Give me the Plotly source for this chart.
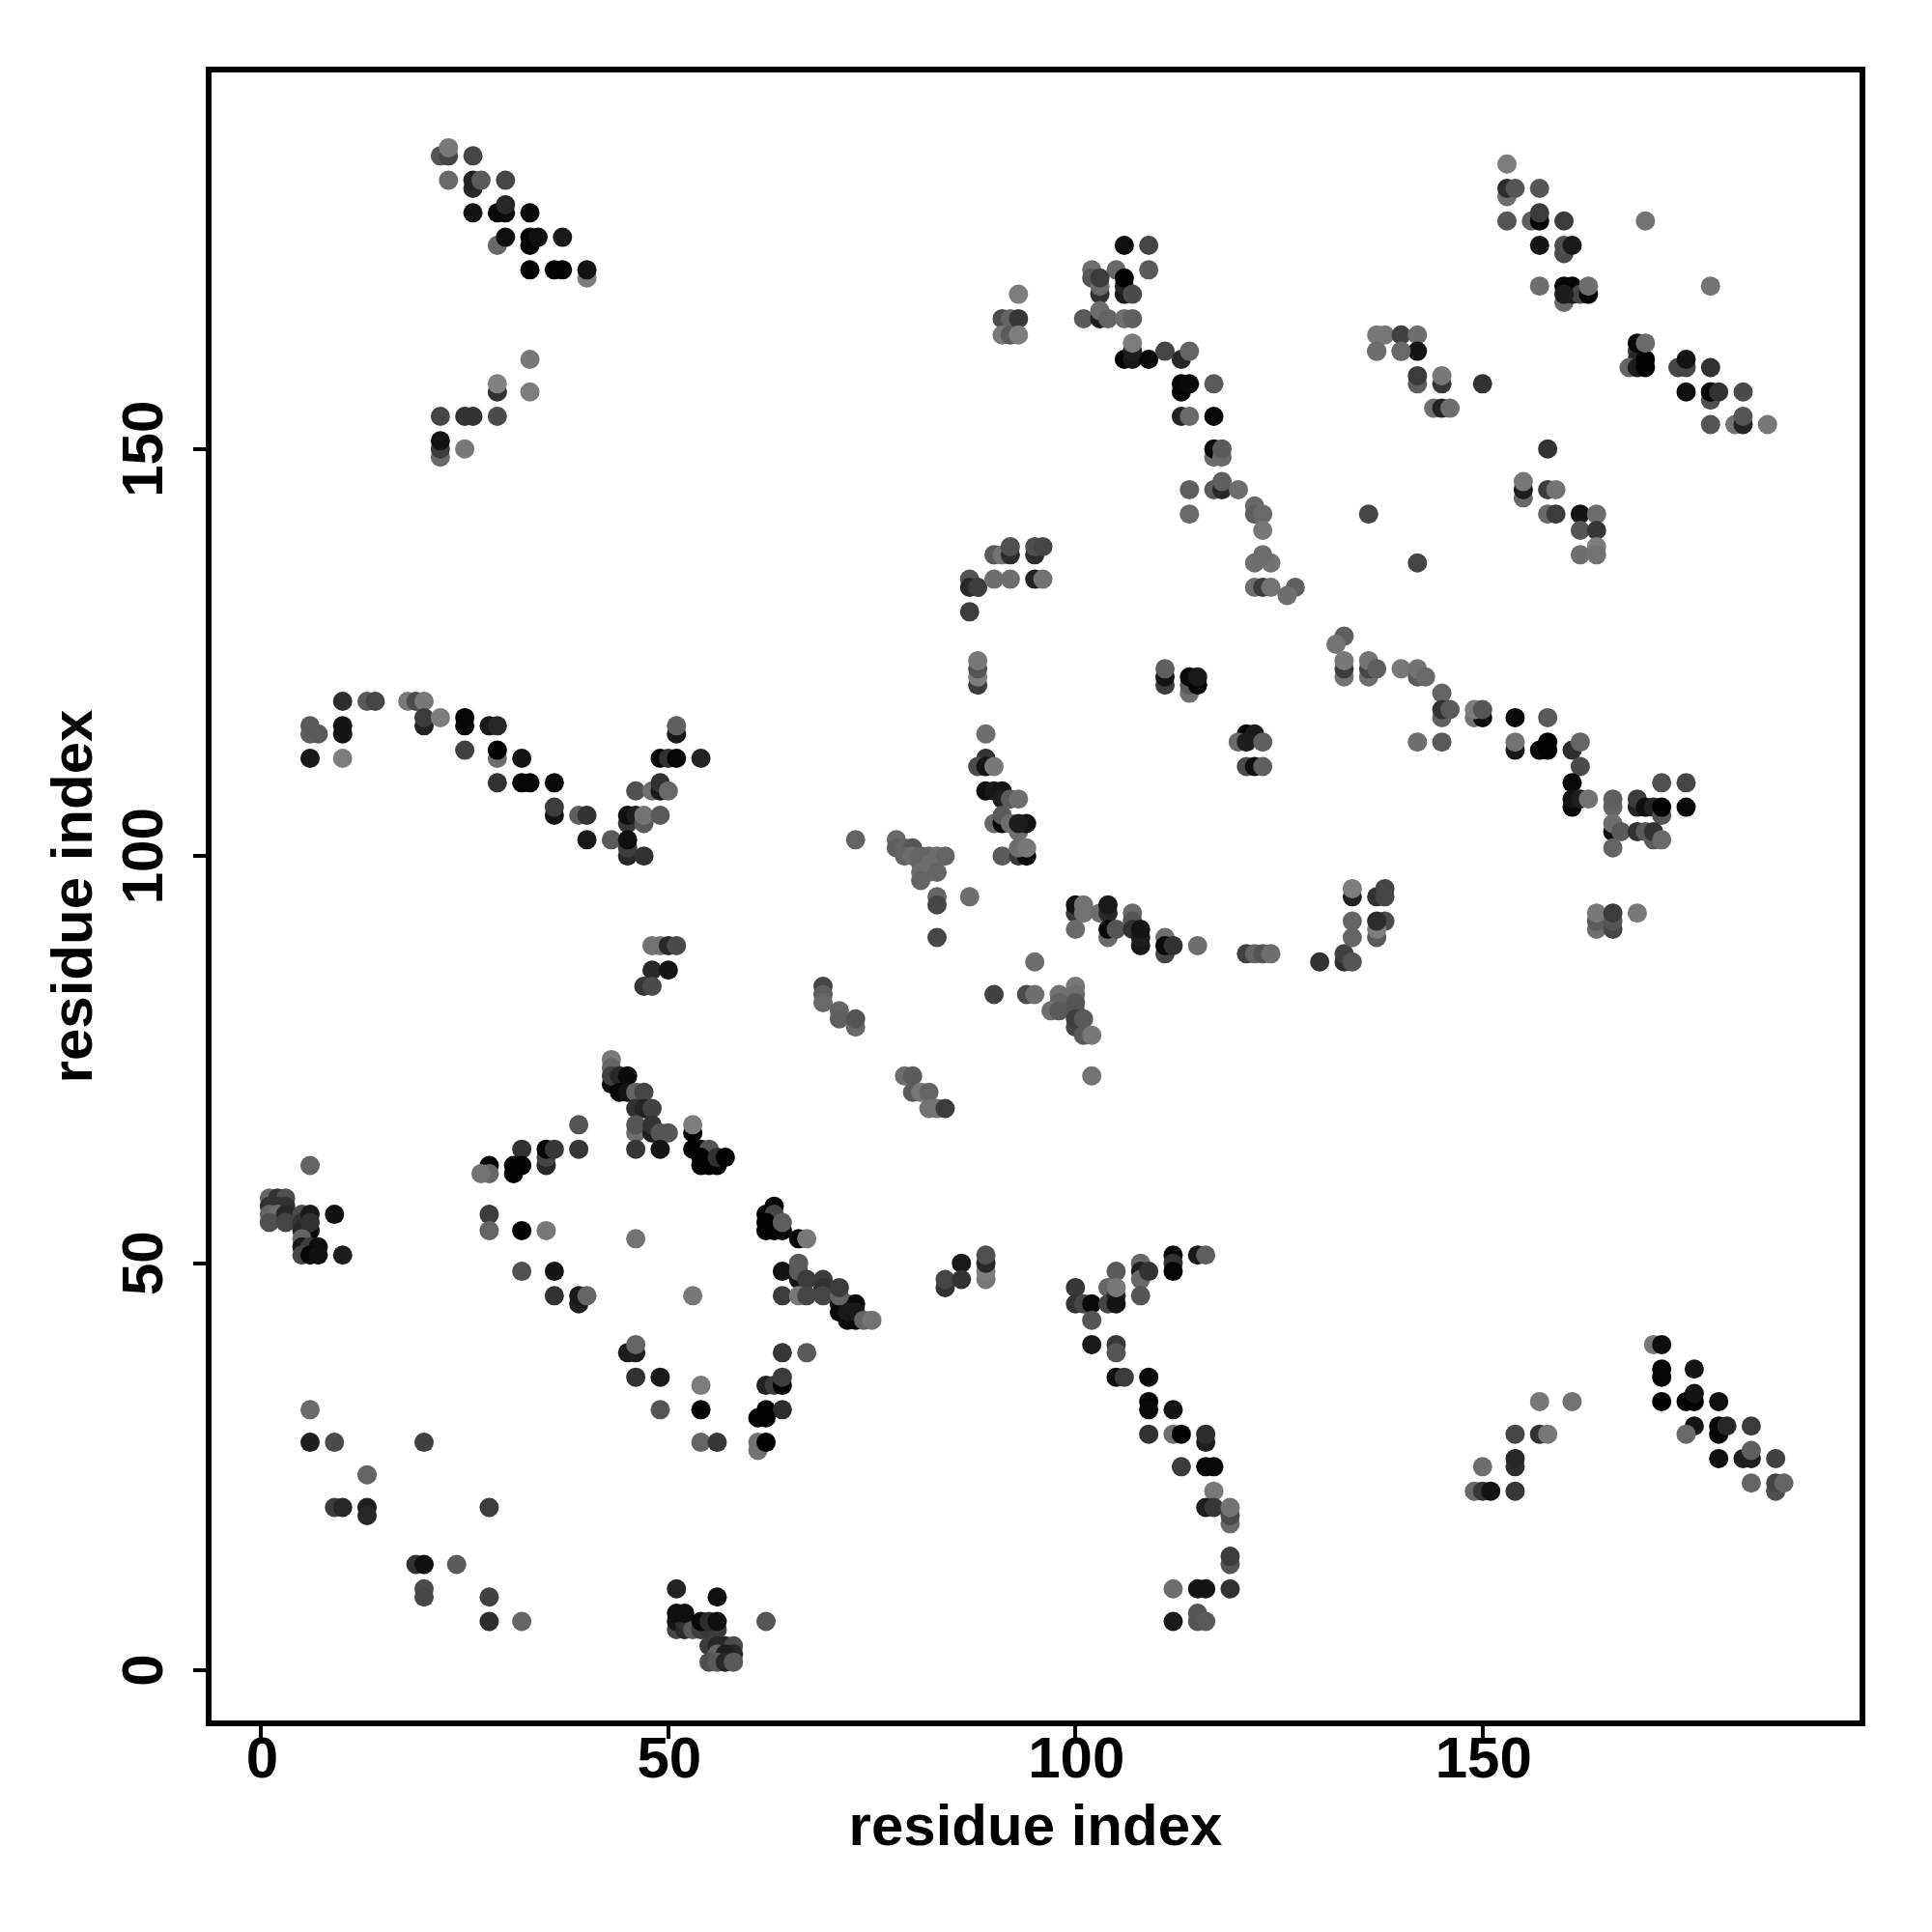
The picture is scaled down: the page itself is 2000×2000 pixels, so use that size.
import plotly.graph_objects as go

tl_x = [22,23,23,26,23,26,26,27,30,26,29,30,30,33,29,30,33,33,34,37,33,36,37,40,40,33,29,29,33,22,25,26,29,22,22,22,25]
tl_y = [186,186,187,186,183,182,183,183,183,179,179,179,180,179,175,176,175,176,176,176,172,172,172,171,172,161,157,158,157,154,154,154,154,149,150,151,150]
tl_g = [85,70,120,70,105,40,35,90,70,20,10,10,40,10,105,15,5,5,15,25,3,3,3,125,20,120,50,130,125,70,50,50,75,105,60,20,120]

tm_x = [93,91,92,93,91,92,93,106,109,102,105,102,109,103,103,103,106,106,106,107,101,103,103,104,106,107,106,107,109,107,107,111,113,114,113,113,114,117,113,114,117,117,117,118,118,114,117,118,118,120,114,122,122,123,123,122,124,123,122,123,124,127,126]
tm_y = [169,166,166,166,164,164,164,175,175,172,172,171,172,169,170,171,169,170,171,169,166,166,167,166,166,166,161,161,161,162,163,162,161,162,157,158,158,158,154,154,154,149,150,149,150,145,145,145,146,145,142,143,142,142,140,136,136,137,133,133,133,133,132]
tm_g = [125,75,100,55,120,90,125,15,70,110,105,85,90,50,105,60,25,35,3,75,90,30,110,100,110,95,5,25,8,30,125,70,40,100,5,5,10,90,35,105,8,105,8,105,90,95,90,40,95,110,105,105,95,105,120,110,115,110,110,60,115,95,110]

tn_x = [87,87,88,87,90,91,92,92,90,92,95,95,96,95,96]
tn_y = [134,133,133,130,137,137,137,138,134,134,137,138,138,134,134]
tn_g = [85,40,60,60,90,115,45,80,110,110,45,80,70,35,115]

tr_x = [153,153,153,154,157,153,156,157,157,160,157,160,160,161,157,160,161,160,161,162,163,163,160,170,178]
tr_y = [185,181,182,182,182,178,178,178,179,178,175,174,175,175,170,168,169,170,170,169,169,170,169,178,170]
tr_g = [125,110,45,85,85,85,95,5,60,60,20,75,80,25,110,105,25,5,5,70,5,110,30,115,115]

ur_x = [137,138,140,142,137,140,142,142,142,145,145,144,145,146,150,158,155,155,155,158,159,158,159,162,164,162,164,164,162,164,136,142,137,140]
ur_y = [164,164,164,164,162,162,162,158,159,158,159,155,155,155,158,150,144,145,146,145,145,142,142,142,142,140,140,138,137,137,142,136,162,162]
ur_g = [120,120,65,110,110,95,20,95,60,55,120,110,35,110,50,50,105,30,120,60,115,105,60,20,110,85,55,125,110,115,70,70,110,105]

rc_x = [169,169,168,169,170,170,169,170,174,175,175,178,178,175,178,178,179,182,178,181,182,182,185]
rc_y = [162,161,160,160,160,161,163,163,160,160,161,160,156,157,157,157,157,157,153,153,153,154,153]
rc_g = [60,40,100,30,3,3,5,105,70,70,20,50,80,15,5,5,50,75,85,115,35,85,120]

ml_x = [10,13,14,18,19,20,20,20,22,25,25,28,29,6,6,7,10,10,6,10,25,29,29,32,29,32,33,36,36,36,39,40,40,43,45,45,46,47,47,49,45,45,45,47,46,48,49,49,50,49,50,51,54,51,51,48,49,50,51,48,50,47,48]
ml_y = [119,119,119,119,119,119,116,117,117,116,117,116,116,115,116,115,115,116,112,112,113,112,113,112,109,109,109,109,105,106,105,105,102,102,104,105,105,104,105,105,100,101,102,100,108,108,108,109,108,112,112,112,112,115,116,89,89,89,89,86,86,84,84]
ml_g = [45,90,70,120,75,120,35,60,125,10,5,25,40,95,90,90,20,20,25,125,65,110,2,20,50,5,5,8,20,60,95,50,25,90,55,15,30,90,115,90,40,60,15,50,80,110,25,50,105,8,50,5,35,25,95,115,115,40,75,40,20,55,75]

mc_x = [88,88,88,88,89,89,88,89,90,89,90,91,91,92,93,90,91,91,92,93,94,93,91,93,94,93,94]
mc_y = [121,122,123,124,115,112,111,111,111,108,108,108,107,107,107,104,104,105,104,103,104,104,100,100,100,101,101]
mc_g = [60,125,85,120,110,50,75,20,120,15,25,20,30,90,110,105,10,90,110,110,20,30,90,60,8,110,120]

rm_x = [111,111,111,114,114,114,115,115,121,122,120,121,123,121,122,123,133,132,133,133,133,136,136,136,137,140]
rm_y = [121,122,123,120,121,122,121,122,115,115,114,114,114,111,111,111,127,126,122,123,124,122,123,124,123,123]
rm_g = [60,20,95,110,90,10,5,25,3,25,105,30,95,75,15,95,95,115,115,60,120,110,70,115,95,120]

rs_x = [142,142,143,145,145,145,146,142,145,149,150,149,150,154,158,154,154,157,158,158,161,162,162,161,161,161,162,163,166,166,166,166,167,166,169,169,170,171,172,172,172,175,175,169,170,171,171,172]
rs_y = [122,123,122,120,117,118,118,114,114,117,117,118,118,117,117,113,114,113,113,114,113,114,111,109,106,107,107,107,106,107,103,104,103,101,106,107,106,106,105,106,109,109,106,103,103,102,103,102]
rs_g = [90,115,105,100,95,50,90,110,90,115,15,125,85,8,90,25,115,8,3,3,45,100,75,8,8,20,30,115,100,95,15,110,90,100,35,60,15,35,85,3,80,70,8,50,90,90,50,105]

rb_x = [164,164,164,166,166,166,169]
rb_y = [91,92,93,91,92,93,93]
rb_g = [110,90,120,70,85,60,120]

hl_x = [100,100,101,101,100,103,104,104,104,104,105,107,107,107,108,108,108,111,111,111,112,115,121,122,123,124,130,133,133,134,134,134,134,134,137,138,138,137,138,137,137]
hl_y = [93,94,94,93,91,93,93,94,90,91,91,93,92,91,89,90,91,88,90,89,89,89,88,88,88,88,87,87,88,87,90,92,95,96,95,95,96,90,92,91,92]
hl_g = [55,20,115,115,105,110,40,25,105,8,85,105,85,50,25,30,20,70,110,10,50,110,65,100,85,110,50,50,65,85,100,100,35,125,50,70,70,90,75,125,45]

cm_x = [95,90,94,95,98,100,100,98,100,97,98,100,100,100,101,101,102,102,87]
cm_y = [87,83,83,83,83,84,83,82,82,81,81,81,79,80,80,78,78,73,95]
cm_g = [110,65,75,110,115,120,110,100,85,110,90,85,70,65,90,90,120,115,110]

ct_x = [73,78,78,79,80,79,80,81,82,83,84,81,82,81,82,83,81,83,83,83,69,69,69,71,71,73,73,79,80,80,81,82,82,83,84]
ct_y = [102,102,101,101,101,100,100,100,100,100,100,99,99,98,98,98,97,95,94,90,84,83,82,81,80,79,80,73,73,71,71,71,69,69,69]
ct_g = [100,105,95,100,85,100,110,100,100,110,100,100,110,110,110,100,100,100,70,70,70,95,105,100,95,105,85,110,90,90,120,100,115,115,60]

dl_x = [39,39,35,35,35,36,43,43,43,43,44,45,44,45,46,47,46,47,48,46,46,48,48,49,50,46,49,53,53,53,54,55,54,55,54,56,56,57,32,28,28,27,31,32,31]
dl_y = [67,64,62,63,64,64,75,72,74,73,73,73,71,71,71,71,69,69,69,66,67,66,67,66,66,64,64,66,67,64,64,64,62,62,63,62,63,63,64,62,61,61,61,62,62]
dl_g = [85,55,40,70,5,55,120,15,100,65,40,10,5,20,100,70,50,35,65,110,85,30,50,85,85,55,20,3,125,3,3,85,3,3,3,3,50,3,50,5,105,115,3,3,3]

md_x = [63,62,63,62,62,63,64,64,66,67,64,66,66,66,67,64,66,67,69,69,69,71,72,73,71,72,73,72,73,74,75,71,71]
md_y = [57,56,56,55,54,54,54,55,53,53,49,48,49,50,48,46,46,46,48,47,46,45,45,45,44,43,43,44,44,43,43,46,47]
md_g = [3,3,70,3,3,3,10,95,3,120,20,20,90,90,60,60,120,70,60,50,70,15,90,8,10,10,10,25,25,100,115,100,60]

lm_x = [35,46,36,36,39,39,40,53,45,46,46,64,67,46,49,54,49,54,54,56,62,63,64,64,62,64,61,62,61,61,62,84,84,86,86,89,89,89,89]
lm_y = [54,53,49,46,45,46,46,46,39,39,40,39,39,36,36,35,32,32,28,28,35,35,35,36,32,32,31,31,27,28,28,47,48,50,48,48,49,50,51]
lm_g = [120,115,20,50,30,25,100,120,30,30,100,55,90,50,25,125,85,3,100,55,35,60,3,60,3,45,3,3,115,115,3,50,70,25,50,120,125,40,80]

bl_x = [6,1,2,3,1,2,3,1,2,3,1,3,5,9,5,6,6,5,6,5,5,6,7,5,6,7,10,6,6,9,20,28,28,32,32,13,13,13,9,10,28,19,20,24,20,20,28,28,32]
bl_y = [62,58,58,58,57,57,57,56,56,56,55,55,56,56,55,56,54,54,55,53,52,52,52,51,51,51,51,32,28,28,28,56,54,54,49,24,20,19,20,20,20,13,13,13,10,9,9,6,6]
bl_g = [100,100,50,80,50,50,50,100,110,40,80,70,75,15,50,25,10,40,50,100,25,60,15,70,5,15,30,105,30,75,65,60,100,3,80,100,30,40,60,40,60,50,15,90,75,70,65,45,100]

bb_x = [51,56,51,51,52,52,53,54,55,56,54,55,56,55,56,57,58,58,56,57,55,56,57,58,51,52,62]
bb_y = [10,9,5,6,5,6,5,5,5,5,6,6,6,3,3,3,3,2,2,2,1,1,1,1,7,7,6]
bb_g = [35,15,70,20,40,50,90,60,55,60,10,45,15,60,40,40,75,40,100,30,80,90,40,90,15,15,85]

rl_x = [100,100,101,102,102,102,104,104,105,105,105,105,105,105,105,106,108,108,108,109,108,112,112,112,115,116,109,109,109,112,109,112,113,116,116,113,116,117,117,116,117,119,119,119,119,119,112,115,116,119,112,115,115,116]
rl_y = [47,45,45,45,43,40,47,45,49,46,45,47,40,39,36,36,50,49,48,49,46,51,50,49,51,51,36,33,32,32,29,29,29,28,29,25,25,25,22,20,20,18,19,20,13,14,10,10,10,10,6,6,7,6]
rl_g = [55,50,70,10,85,25,100,70,90,40,20,120,55,85,15,60,105,30,105,50,85,8,50,5,25,95,10,5,8,20,50,110,2,30,45,60,8,8,120,30,55,105,75,115,85,60,110,20,20,50,25,85,85,90]

br_x = [149,150,151,154,150,154,154,154,157,158,157,161,171,172,172,172,176,172,175,176,176,179,176,175,179,179,180,183,179,182,183,183,186,183,186,186,187]
br_y = [22,22,22,22,25,25,26,29,29,29,33,33,40,40,36,37,37,33,33,33,34,33,30,29,29,30,30,30,26,26,26,27,26,23,22,23,23]
br_g = [105,55,20,55,110,45,40,70,50,120,120,115,120,15,5,5,20,3,3,3,20,15,20,105,5,5,40,60,15,30,30,95,65,100,80,70,100]

regions = [
    (tl_x, tl_y, tl_g), (tm_x, tm_y, tm_g), (tn_x, tn_y, tn_g), (tr_x, tr_y, tr_g),
    (ur_x, ur_y, ur_g), (rc_x, rc_y, rc_g), (ml_x, ml_y, ml_g), (mc_x, mc_y, mc_g),
    (rm_x, rm_y, rm_g), (rs_x, rs_y, rs_g), (rb_x, rb_y, rb_g), (hl_x, hl_y, hl_g),
    (cm_x, cm_y, cm_g), (ct_x, ct_y, ct_g), (dl_x, dl_y, dl_g), (md_x, md_y, md_g),
    (lm_x, lm_y, lm_g), (bl_x, bl_y, bl_g), (bb_x, bb_y, bb_g), (rl_x, rl_y, rl_g),
    (br_x, br_y, br_g),
]
for i, (a, b, c) in enumerate(regions):
    assert len(a) == len(b) == len(c), (i, len(a), len(b), len(c))

residue_i = [v for r in regions for v in r[0]]
residue_j = [v for r in regions for v in r[1]]
shade = [v for r in regions for v in r[2]]
tick_values = [0, 50, 100, 150]
axis_label = "residue index"
FONT = "Liberation Sans"
FONT_SIZE = 60

fig = go.Figure(go.Scatter(
    x=residue_i, y=residue_j, mode="markers", hoverinfo="skip",
    marker=dict(size=20, color=[f"rgb({g},{g},{g})" for g in shade], line=dict(width=0)),
))
common = dict(
    tickmode="array", tickvals=tick_values, ticktext=[str(t) for t in tick_values],
    showgrid=False, zeroline=False, showline=True, mirror=True, linecolor="black", linewidth=6,
    ticks="outside", ticklen=13, tickwidth=4, tickcolor="black",
    tickfont=dict(family=FONT, size=FONT_SIZE, color="black", weight="bold"),
)
title_font = dict(family=FONT, size=FONT_SIZE, color="black", weight="bold")
fig.update_xaxes(range=[-6.1, 196.3], ticklabelstandoff=-32, ticklabelshift=1, **common,
                 title=dict(text=axis_label, standoff=18, font=title_font))
fig.update_yaxes(range=[-6.16, 196.24], tickangle=-90, ticklabelstandoff=8, ticklabelshift=9, **common,
                 title=dict(text=axis_label, standoff=1, font=title_font))
fig.update_layout(width=2000, height=2000, autosize=False, showlegend=False,
                  paper_bgcolor="white", plot_bgcolor="white",
                  margin=dict(l=219, r=75, t=75, b=219, pad=0))
fig.write_html("out.html", config={"displayModeBar": False},
               post_script="document.body.style.margin='0';window.dispatchEvent(new Event('resize'));")
